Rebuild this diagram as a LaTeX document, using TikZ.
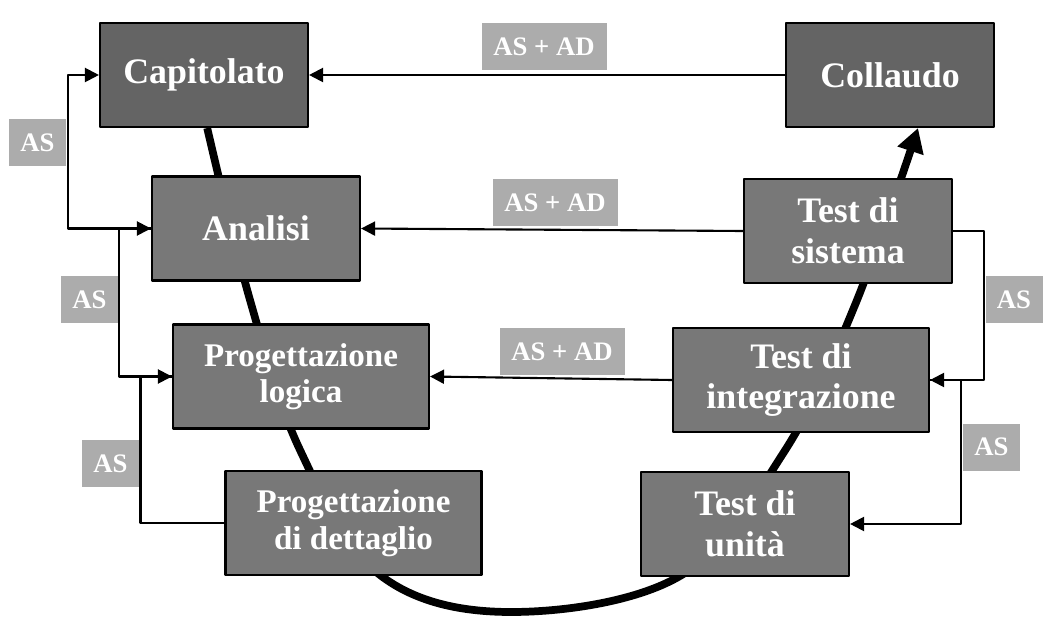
\documentclass[tikz,border=0pt]{standalone}
\usepackage{fontspec}
\setmainfont{Liberation Serif}
\usetikzlibrary{arrows.meta}
\usetikzlibrary{backgrounds}
\definecolor{fasescura}{RGB}{100,100,100}
\definecolor{fase}{RGB}{120,120,120}
\definecolor{etich}{RGB}{172,172,172}

\begin{document}
\begin{tikzpicture}[line cap=round,line join=round,x=0.25cm,y=-0.25cm,
  >={Triangle[length=3.5mm,width=3.5mm]},
  fase/.style={draw=black,line width=1.5pt,fill=fase,text=white,align=center,
    minimum height=2.6cm,inner sep=0pt,font=\bfseries\fontsize{25.5}{29}\selectfont},
  prog/.style={fase,font=\bfseries\fontsize{23.5}{26}\selectfont},
  etichetta/.style={fill=etich,text=white,minimum height=1.175cm,inner sep=0pt,
    font=\bfseries\fontsize{19}{21}\selectfont},
  freccia/.style={->,line width=1.5pt}]
\useasboundingbox (0,0) rectangle (105.1,62.4);
%
\node[fase,fill=fasescura,minimum width=5.2cm] (cap) at (20.4,7.5) {\raisebox{-1.2mm}{Capitolato}};
\node[fase,fill=fasescura,minimum width=5.2cm] (col) at (89.0,7.5) {\raisebox{-1.2mm}{Collaudo}};
\node[fase,minimum width=5.2cm] (ana) at (25.6,22.85) {\raisebox{-1.2mm}{Analisi}};
\node[fase,minimum width=5.2cm] (sis) at (84.8,23.1) {Test di\\sistema};
\node[prog,minimum width=6.4cm] (log) at (30.1,37.65) {Progettazione\\logica};
\node[fase,minimum width=6.4cm] (int) at (80.1,38.0) {Test di\\integrazione};
\node[prog,minimum width=6.4cm] (det) at (35.35,52.3) {Progettazione\\di dettaglio};
\node[fase,minimum width=5.2cm] (uni) at (74.5,52.4) {Test di\\unità};
%
\begin{scope}[on background layer]
\draw[line width=5.5pt,-{Triangle[length=6mm,width=6.5mm]}]
  plot[smooth,tension=0.6] coordinates {([xshift=0.8mm]cap.south) (25.0,30.0) (30.0,45.0)
  (38.0,57.5) (51.0,61.2) (68.0,57.6) (78.4,45.2) (85.5,30.5) ([xshift=7mm]col.south)};
\end{scope}
%
\draw[freccia] (col.west) -- (cap.east);
\draw[freccia] (sis.west) -- (ana.east);
\draw[freccia] (int.west) -- (log.east);
\draw[freccia] (ana.west) -- ++(-8.3,0) |- (cap.west);
\draw[freccia] (log.west) -- ++(-5.3,0) |- (ana.west);
\draw[freccia] (det.west) -- ++(-8.4,0) |- (log.west);
\draw[freccia] (sis.east) -- ++(3.1,0) |- (int.east);
\draw[freccia] (int.east) -- ++(3.1,0) |- (uni.east);
%
\node[etichetta,minimum width=3.125cm] (e1) at (54.4,4.65) {AS + AD};
\node[etichetta,minimum width=3.125cm] (e2) at (55.5,20.3) {AS + AD};
\node[etichetta,minimum width=3.125cm] (e3) at (56.2,35.15) {AS + AD};
\node[etichetta,minimum width=1.425cm] (s1) at (3.75,14.25) {AS};
\node[etichetta,minimum width=1.425cm] (s2) at (8.95,30.0) {AS};
\node[etichetta,minimum width=1.425cm] (s3) at (11.05,46.35) {AS};
\node[etichetta,minimum width=1.425cm] (s4) at (101.4,30.0) {AS};
\node[etichetta,minimum width=1.425cm] (s5) at (99.15,44.7) {AS};
\end{tikzpicture}
\end{document}
